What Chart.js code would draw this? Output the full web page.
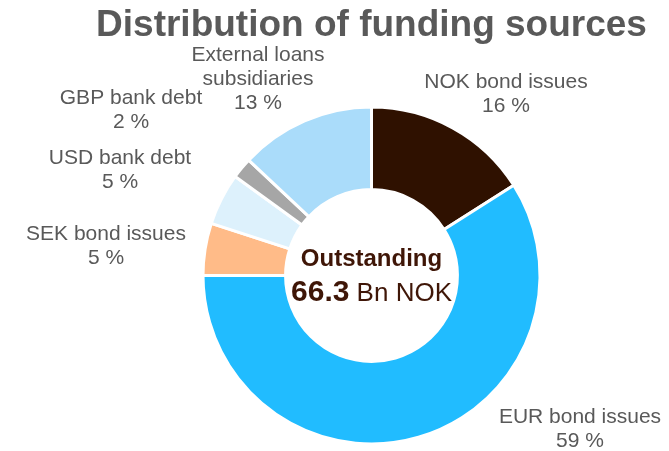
<!DOCTYPE html>
<html>
<head>
<meta charset="utf-8">
<script src="https://cdn.jsdelivr.net/npm/chart.js@4.4.0/dist/chart.umd.min.js"></script>
<style>
  html, body { margin: 0; padding: 0; background: #ffffff; }
  #wrap { width: 669px; height: 451px; }
</style>
</head>
<body>
<div id="wrap"><canvas id="c" width="669" height="451"></canvas></div>
<script>
// Funding sources, share of total outstanding (%)
const categories = [
  ["NOK bond issues"],
  ["EUR bond issues"],
  ["SEK bond issues"],
  ["USD bank debt"],
  ["GBP bank debt"],
  ["External loans", "subsidiaries"]
];
const shares = [16, 59, 5, 5, 2, 13];
const sliceColors = ["#2f1100", "#21bcff", "#ffbb88", "#ddf1fc", "#a6a6a6", "#aadcfa"];

const totalOutstanding = "66.3";
const totalUnit = "Bn NOK";
const chartTitle = "Distribution of funding sources";
const centerCaption = "Outstanding";

// Where each category label sits, as an offset from the doughnut centre (first line)
const labelOffsets = [
  [134.5, -193.5],
  [208.5, 142],
  [-265.5, -41.5],
  [-251.5, -117.5],
  [-240.5, -177.5],
  [-113.5, -220.5]
];

const FONT = '"Liberation Sans", Arial, sans-serif';
const GREY = '#595959';
const BROWN = '#3f1607';

const textPlugin = {
  id: 'fundingText',
  afterDraw(chart) {
    const ctx = chart.ctx;
    const arcs = chart.getDatasetMeta(0).data;
    if (!arcs.length) return;
    const cx = arcs[0].x, cy = arcs[0].y;
    ctx.save();

    // title
    ctx.fillStyle = GREY;
    ctx.font = 'bold 37px ' + FONT;
    ctx.textAlign = 'center';
    ctx.textBaseline = 'alphabetic';
    ctx.fillText(chartTitle, cx, 36);

    // category labels with percentage
    ctx.font = '21px ' + FONT;
    ctx.textBaseline = 'middle';
    categories.forEach((lines, i) => {
      const [dx, dy] = labelOffsets[i];
      const all = lines.concat([shares[i] + ' %']);
      all.forEach((t, k) => ctx.fillText(t, cx + dx, cy + dy + k * 24));
    });

    // centre text
    ctx.fillStyle = BROWN;
    ctx.textBaseline = 'alphabetic';
    ctx.font = 'bold 24px ' + FONT;
    ctx.fillText(centerCaption, cx, cy - 9.5);

    const boldFont = 'bold 30px ' + FONT;
    const normFont = '26px ' + FONT;
    ctx.font = boldFont;
    const w1 = ctx.measureText(totalOutstanding).width;
    ctx.font = normFont;
    const w2 = ctx.measureText(' ' + totalUnit).width;
    const x0 = cx - (w1 + w2) / 2;
    ctx.textAlign = 'left';
    ctx.font = boldFont;
    ctx.fillText(totalOutstanding, x0, cy + 25.5);
    ctx.font = normFont;
    ctx.fillText(' ' + totalUnit, x0 + w1, cy + 25.5);
    ctx.restore();
  }
};

new Chart(document.getElementById('c'), {
  type: 'doughnut',
  data: {
    labels: categories.map(l => l.join(' ')),
    datasets: [{
      data: shares,
      backgroundColor: sliceColors,
      borderColor: '#ffffff',
      borderWidth: 3,
      hoverOffset: 0
    }]
  },
  options: {
    responsive: false,
    animation: false,
    devicePixelRatio: 1,
    cutout: '51%',
    layout: { padding: { left: 201.5, right: 127.5, top: 105.5, bottom: 5.5 } },
    plugins: {
      legend: { display: false },
      tooltip: { enabled: false },
      title: { display: false }
    }
  },
  plugins: [textPlugin]
});
</script>
</body>
</html>
